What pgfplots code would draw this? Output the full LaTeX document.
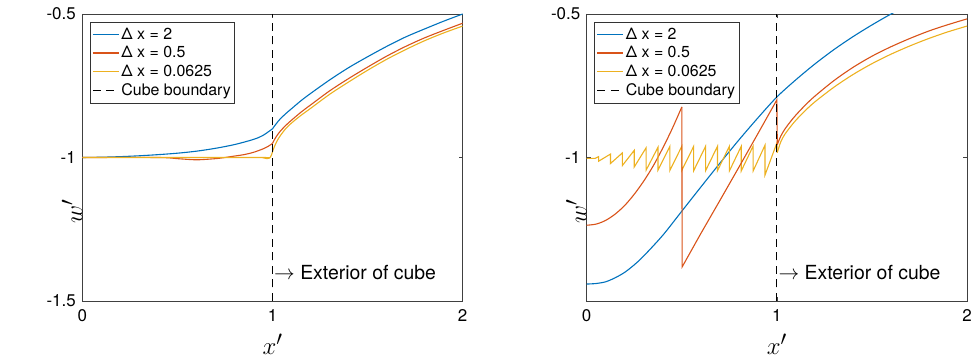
\documentclass[border=0pt]{standalone}
\usepackage{pgfplots}
\pgfplotsset{compat=1.18}
\usepackage{fontspec}
\setmainfont{TeX Gyre Heros}

\definecolor{mblue}{rgb}{0,0.447,0.741}
\definecolor{mred}{rgb}{0.850,0.325,0.098}
\definecolor{myellow}{rgb}{0.929,0.694,0.125}

\pgfplotsset{
  wpanel/.style={
    scale only axis,
    width=380.4bp, height=287bp,
    xmin=0, xmax=2, ymin=-1.5, ymax=-0.5,
    xtick={0,1,2}, xticklabels={0,1,2},
    axis line style={black!75, line width=0.8bp},
    tick style={black!75, line width=0.8bp},
    tick align=inside, major tick length=4bp,
    /pgf/number format/assume math mode=true,
    ticklabel style={font=\fontsize{17}{20}\selectfont},
    xticklabel style={yshift=-5bp},
    yticklabel style={xshift=-3bp},
    xlabel={$x'$}, ylabel={$w'$},
    label style={font=\fontsize{28}{30}\selectfont},
    xlabel style={at={(axis description cs:0.5,0)}, anchor=base, yshift=-53.5bp},
    ylabel style={at={(axis description cs:0,0.5)}, anchor=base, xshift=-54bp},
    legend cell align=left,
    legend image code/.code={\draw[##1, line width=1.1bp] (0bp,0bp) -- (26bp,0bp);},
    legend style={at={(0,1)}, anchor=north west, xshift=7.7bp, yshift=-7.7bp,
      draw=black!80, line width=0.7bp, fill=white,
      font=\fontsize{16}{19}\selectfont, row sep=1.6bp,
      inner xsep=2bp, inner ysep=4bp},
    every axis plot/.append style={line width=1.1bp},
  },
  bdry/.style={black, line width=1bp, dash pattern=on 8bp off 5.5bp},
  curve/.style={smooth, tension=0.5},
}

\begin{document}
\begin{tikzpicture}
\path[use as bounding box] (0,0) rectangle (973bp,358bp);

% Left panel
\begin{axis}[wpanel, at={(82.3bp,57bp)}, anchor=south west,
  ytick={-1.5,-1,-0.5}, yticklabels={-1.5,-1,-0.5}]
\addplot[mblue, curve] coordinates {
 (0,-1.000) (0.1,-0.999) (0.2,-0.997) (0.3,-0.994) (0.4,-0.990)
 (0.5,-0.985) (0.6,-0.978) (0.7,-0.968) (0.8,-0.955) (0.9,-0.937)
 (0.95,-0.923) (1.0,-0.900)};
\addlegendentry{Δ x = 2}
\addplot[mred, curve] coordinates {
 (0,-1.000) (0.4,-1.000) (0.5,-1.004) (0.6,-1.008) (0.7,-1.004)
 (0.75,-1.000) (0.8,-0.995) (0.85,-0.990) (0.9,-0.982) (0.95,-0.970)
 (0.98,-0.960) (1.0,-0.951)};
\addlegendentry{Δ x = 0.5}
\addplot[myellow, curve] coordinates {
 (0,-1.000) (0.9,-1.000) (0.95,-1.001) (0.97,-1.004) (0.985,-1.002)
 (0.995,-0.990) (1.0,-0.980)};
\addlegendentry{Δ x = 0.0625}
\addplot[bdry] coordinates {(1,-1.5) (1,-0.5)};
\addlegendentry{Cube boundary}
% exterior branches
\addplot[mblue, curve, forget plot] coordinates {
 (1.0,-0.900) (1.02,-0.882) (1.04,-0.866) (1.07,-0.847)
 (1.1,-0.830) (1.15,-0.802) (1.2,-0.777) (1.3,-0.730) (1.4,-0.687)
 (1.5,-0.649) (1.6,-0.613) (1.7,-0.580) (1.8,-0.552) (1.9,-0.525) (2.0,-0.500)};
\addplot[mred, curve, forget plot] coordinates {
 (1.0,-0.951) (1.01,-0.938) (1.02,-0.927) (1.04,-0.909)
 (1.07,-0.888) (1.1,-0.870) (1.15,-0.842) (1.2,-0.817) (1.3,-0.768)
 (1.4,-0.725) (1.5,-0.685) (1.6,-0.647) (1.7,-0.613) (1.8,-0.583)
 (1.9,-0.557) (2.0,-0.532)};
\addplot[myellow, curve, forget plot] coordinates {
 (1.0,-0.980) (1.01,-0.962) (1.025,-0.941) (1.04,-0.925)
 (1.07,-0.899) (1.1,-0.880) (1.15,-0.853) (1.2,-0.829) (1.3,-0.780)
 (1.4,-0.737) (1.5,-0.696) (1.6,-0.658) (1.7,-0.624) (1.8,-0.593)
 (1.9,-0.566) (2.0,-0.542)};
\addplot[bdry, forget plot] coordinates {(1,-1.5) (1,-0.5)};
\node[anchor=base west, inner sep=0, xshift=1.5bp,
  font=\fontsize{19.5}{22}\selectfont] at (axis cs:1,-1.4236)
  {$\rightarrow$ Exterior of cube};
\end{axis}

% Right panel
\begin{axis}[wpanel, at={(586.7bp,57bp)}, anchor=south west,
  ytick={-1,-0.5}, yticklabels={-1,-0.5}]
\addplot[mblue, curve] coordinates {
 (0,-1.441) (0.05,-1.439) (0.1,-1.433) (0.15,-1.419) (0.2,-1.400)
 (0.25,-1.374) (0.3,-1.343) (0.4,-1.271) (0.5,-1.187) (0.6,-1.103)
 (0.7,-1.020) (0.8,-0.939) (0.9,-0.862) (1.0,-0.789) (1.1,-0.729)
 (1.2,-0.674) (1.3,-0.624) (1.4,-0.579) (1.5,-0.538) (1.6,-0.500)
 (1.7,-0.465)};
\addlegendentry{Δ x = 2}
\addplot[mred, curve] coordinates {
 (0,-1.236) (0.05,-1.232) (0.1,-1.219) (0.15,-1.197) (0.2,-1.167)
 (0.25,-1.128) (0.3,-1.082) (0.35,-1.029) (0.4,-0.967) (0.45,-0.899)
 (0.5,-0.824)};
\addlegendentry{Δ x = 0.5}
\addplot[myellow] coordinates {
 (0,-1.003) (0.045,-1.003) (0.0625,-0.997)
 (0.0625,-1.013) (0.125,-0.988)
 (0.125,-1.021) (0.1875,-0.984)
 (0.1875,-1.028) (0.25,-0.975)
 (0.25,-1.033) (0.3125,-0.966)
 (0.3125,-1.044) (0.375,-0.964)
 (0.375,-1.044) (0.4375,-0.961)
 (0.4375,-1.045) (0.5,-0.961)
 (0.5,-1.045) (0.5625,-0.961)
 (0.5625,-1.046) (0.625,-0.961)
 (0.625,-1.046) (0.6875,-0.961)
 (0.6875,-1.046) (0.75,-0.961)
 (0.75,-1.047) (0.8125,-0.961)
 (0.8125,-1.047) (0.875,-0.960)
 (0.875,-1.047) (0.9375,-0.957)
 (0.9375,-1.061) (1.0,-0.949) (1.002,-0.983)};
\addlegendentry{Δ x = 0.0625}
\addplot[bdry] coordinates {(1,-1.5) (1,-0.5)};
\addlegendentry{Cube boundary}
% remaining pieces of the Δx = 0.5 and Δx = 0.0625 solutions
\addplot[mred, forget plot] coordinates {
 (0.5,-0.824) (0.502,-1.381) (0.6,-1.265) (0.7,-1.150) (0.8,-1.034)
 (0.9,-0.917) (1.0,-0.799) (1.002,-0.955)};
\addplot[mred, curve, forget plot] coordinates {
 (1.002,-0.955) (1.02,-0.926) (1.04,-0.903) (1.07,-0.876) (1.1,-0.852)
 (1.15,-0.817) (1.2,-0.786) (1.3,-0.732) (1.4,-0.686) (1.5,-0.647)
 (1.6,-0.614) (1.7,-0.585) (1.8,-0.559) (1.9,-0.537) (2.0,-0.517)};
\addplot[myellow, curve, forget plot] coordinates {
 (1.002,-0.983) (1.02,-0.946) (1.04,-0.921) (1.07,-0.894) (1.1,-0.870)
 (1.15,-0.836) (1.2,-0.806) (1.3,-0.755) (1.4,-0.711) (1.5,-0.673)
 (1.6,-0.640) (1.7,-0.611) (1.8,-0.585) (1.9,-0.562) (2.0,-0.542)};
\addplot[bdry, forget plot] coordinates {(1,-1.5) (1,-0.5)};
\node[anchor=base west, inner sep=0, xshift=1.5bp,
  font=\fontsize{19.5}{22}\selectfont] at (axis cs:1,-1.4236)
  {$\rightarrow$ Exterior of cube};
\end{axis}
\end{tikzpicture}
\end{document}
